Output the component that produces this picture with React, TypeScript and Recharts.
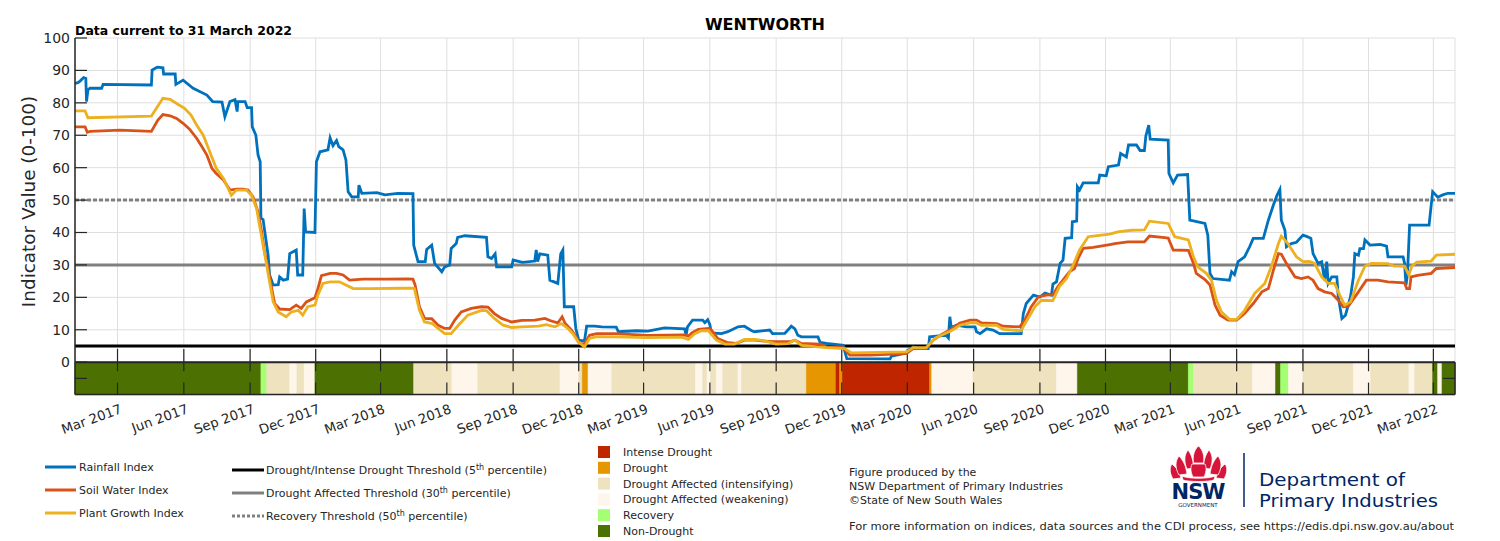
import React from "react";
import {
  CartesianGrid,
  ComposedChart,
  Line,
  ReferenceArea,
  ReferenceLine,
  XAxis,
  YAxis,
} from "recharts";

type Point = [string, number];
type StatusKey = "intense" | "drought" | "intensifying" | "weakening" | "recovery" | "nonDrought";
type Span = [string, string, StatusKey];

const rainfallIndex: Point[] = [
  ["2017-01-01", 86.0], ["2017-01-05", 86.2], ["2017-01-08", 86.7], ["2017-01-13", 87.8],
  ["2017-01-16", 87.5], ["2017-01-17", 80.4], ["2017-01-19", 84.0], ["2017-01-22", 84.5],
  ["2017-02-07", 84.5], ["2017-02-09", 85.7], ["2017-04-17", 85.5], ["2017-04-18", 90.1],
  ["2017-04-25", 91.0], ["2017-05-03", 90.8], ["2017-05-04", 88.9], ["2017-05-20", 88.9],
  ["2017-05-21", 85.7], ["2017-05-31", 87.0], ["2017-06-14", 84.5], ["2017-07-03", 82.4],
  ["2017-07-11", 80.4], ["2017-07-24", 80.2], ["2017-07-28", 75.7], ["2017-08-04", 80.4],
  ["2017-08-11", 81.0], ["2017-08-14", 77.3], ["2017-08-15", 80.4], ["2017-08-25", 80.4],
  ["2017-08-28", 78.5], ["2017-09-03", 78.5], ["2017-09-04", 72.6], ["2017-09-09", 70.0],
  ["2017-09-12", 63.9], ["2017-09-15", 61.8], ["2017-09-16", 44.4], ["2017-09-19", 44.0],
  ["2017-09-26", 33.0], ["2017-09-28", 26.9], ["2017-10-03", 23.8], ["2017-10-10", 23.9],
  ["2017-10-12", 26.3], ["2017-10-17", 25.3], ["2017-10-23", 25.6], ["2017-10-26", 33.5],
  ["2017-11-04", 34.6], ["2017-11-06", 26.9], ["2017-11-13", 26.9], ["2017-11-15", 47.4],
  ["2017-11-17", 40.2], ["2017-11-30", 40.0], ["2017-12-02", 61.8], ["2017-12-07", 64.9],
  ["2017-12-18", 65.5], ["2017-12-21", 69.2], ["2017-12-25", 66.8], ["2017-12-30", 68.4],
  ["2018-01-02", 66.5], ["2018-01-08", 65.5], ["2018-01-12", 62.3], ["2018-01-15", 52.6],
  ["2018-01-20", 51.0], ["2018-01-29", 51.0], ["2018-01-30", 54.6], ["2018-02-03", 52.1],
  ["2018-02-24", 52.3], ["2018-03-07", 51.6], ["2018-03-25", 52.1], ["2018-04-15", 52.0],
  ["2018-04-16", 36.1], ["2018-04-22", 31.0], ["2018-05-02", 31.0], ["2018-05-04", 34.8],
  ["2018-05-11", 36.1], ["2018-05-15", 30.5], ["2018-05-25", 27.9], ["2018-05-29", 29.4],
  ["2018-06-05", 30.0], ["2018-06-07", 35.1], ["2018-06-14", 36.6], ["2018-06-16", 38.5],
  ["2018-06-26", 39.0], ["2018-07-26", 38.5], ["2018-07-28", 32.5], ["2018-08-02", 32.0],
  ["2018-08-07", 33.4], ["2018-08-09", 29.4], ["2018-08-30", 29.4], ["2018-09-01", 31.5],
  ["2018-09-14", 30.8], ["2018-10-01", 31.2], ["2018-10-03", 34.6], ["2018-10-05", 31.0],
  ["2018-10-08", 33.4], ["2018-10-19", 33.0], ["2018-10-22", 25.3], ["2018-11-02", 24.3],
  ["2018-11-06", 33.4], ["2018-11-09", 34.6], ["2018-11-11", 17.1], ["2018-11-24", 17.1],
  ["2018-11-27", 10.4], ["2018-12-01", 6.8], ["2018-12-09", 6.5], ["2018-12-12", 11.1],
  ["2018-12-23", 11.1], ["2019-01-02", 10.9], ["2019-01-22", 10.8], ["2019-01-25", 9.4],
  ["2019-02-19", 9.7], ["2019-03-07", 9.6], ["2019-03-30", 10.6], ["2019-04-27", 10.3],
  ["2019-04-29", 8.3], ["2019-05-01", 10.9], ["2019-05-08", 13.0], ["2019-05-22", 13.0],
  ["2019-05-25", 12.2], ["2019-05-29", 13.1], ["2019-06-01", 11.6], ["2019-06-03", 9.0],
  ["2019-06-17", 8.8], ["2019-06-26", 9.4], ["2019-07-10", 10.9], ["2019-07-19", 11.1],
  ["2019-07-29", 9.7], ["2019-08-02", 9.4], ["2019-08-23", 9.9], ["2019-08-27", 8.8],
  ["2019-09-13", 8.9], ["2019-09-22", 11.1], ["2019-09-27", 10.3], ["2019-10-01", 8.3],
  ["2019-10-06", 7.8], ["2019-10-29", 7.8], ["2019-11-01", 6.1], ["2019-11-10", 5.8],
  ["2019-12-03", 5.2], ["2019-12-08", 1.1], ["2020-02-06", 1.0], ["2020-02-08", 1.9],
  ["2020-02-29", 2.8], ["2020-03-02", 3.7], ["2020-03-09", 4.7], ["2020-03-18", 4.2],
  ["2020-03-30", 4.2], ["2020-04-01", 7.8], ["2020-04-24", 8.3], ["2020-04-27", 7.5],
  ["2020-04-29", 14.0], ["2020-05-01", 10.6], ["2020-05-08", 11.4], ["2020-05-22", 10.9],
  ["2020-06-03", 10.9], ["2020-06-05", 9.4], ["2020-06-10", 8.8], ["2020-06-19", 10.3],
  ["2020-06-28", 9.9], ["2020-07-07", 8.8], ["2020-08-06", 8.8], ["2020-08-09", 15.0],
  ["2020-08-13", 18.1], ["2020-08-23", 20.7], ["2020-09-01", 20.1], ["2020-09-08", 21.3],
  ["2020-09-17", 20.7], ["2020-09-19", 24.1], ["2020-09-24", 24.8], ["2020-09-29", 30.5],
  ["2020-10-03", 31.5], ["2020-10-06", 38.2], ["2020-10-15", 38.4], ["2020-10-16", 43.3],
  ["2020-10-22", 43.5], ["2020-10-23", 54.1], ["2020-10-26", 53.1], ["2020-10-31", 55.3],
  ["2020-11-21", 55.3], ["2020-11-23", 57.7], ["2020-12-02", 57.5], ["2020-12-05", 60.3],
  ["2020-12-19", 60.8], ["2020-12-22", 64.4], ["2020-12-30", 63.3], ["2021-01-02", 67.0],
  ["2021-01-13", 67.0], ["2021-01-18", 65.3], ["2021-01-24", 65.3], ["2021-01-26", 69.8],
  ["2021-01-30", 73.1], ["2021-02-01", 68.8], ["2021-02-26", 68.5], ["2021-02-27", 58.2],
  ["2021-03-05", 55.3], ["2021-03-11", 57.7], ["2021-03-25", 57.9], ["2021-03-28", 43.8],
  ["2021-04-18", 42.8], ["2021-04-22", 39.2], ["2021-04-25", 27.4], ["2021-04-29", 25.8],
  ["2021-05-22", 25.3], ["2021-05-25", 27.9], ["2021-05-29", 27.0], ["2021-06-03", 31.0],
  ["2021-06-12", 32.5], ["2021-06-19", 35.6], ["2021-06-24", 38.2], ["2021-07-08", 38.2],
  ["2021-07-15", 43.8], ["2021-07-22", 48.5], ["2021-07-27", 51.5], ["2021-07-31", 53.3],
  ["2021-08-02", 43.8], ["2021-08-07", 40.7], ["2021-08-09", 35.6], ["2021-08-16", 36.6],
  ["2021-08-23", 37.0], ["2021-09-01", 39.2], ["2021-09-06", 38.8], ["2021-09-12", 38.2],
  ["2021-09-15", 33.5], ["2021-09-22", 30.5], ["2021-09-27", 31.0], ["2021-10-01", 25.3],
  ["2021-10-04", 31.0], ["2021-10-06", 24.3], ["2021-10-11", 26.3], ["2021-10-18", 26.3],
  ["2021-10-20", 20.2], ["2021-10-25", 13.5], ["2021-10-30", 14.5], ["2021-11-06", 20.2],
  ["2021-11-10", 26.3], ["2021-11-12", 33.5], ["2021-11-17", 33.0], ["2021-11-19", 35.0],
  ["2021-11-24", 35.0], ["2021-11-26", 37.7], ["2021-12-01", 36.6], ["2021-12-03", 36.1],
  ["2021-12-17", 36.3], ["2021-12-26", 35.8], ["2021-12-28", 32.5], ["2022-01-18", 32.5],
  ["2022-01-20", 30.5], ["2022-01-22", 23.8], ["2022-01-24", 27.0], ["2022-01-27", 42.3],
  ["2022-02-23", 42.3], ["2022-02-28", 52.6], ["2022-03-07", 50.9], ["2022-03-14", 51.6],
  ["2022-03-21", 52.1], ["2022-03-31", 52.1],
];

const soilWaterIndex: Point[] = [
  ["2017-01-01", 72.6], ["2017-01-15", 72.6], ["2017-01-18", 70.9], ["2017-01-22", 71.2],
  ["2017-03-04", 71.6], ["2017-04-17", 71.2], ["2017-04-26", 74.7], ["2017-05-03", 76.4],
  ["2017-05-13", 76.0], ["2017-05-22", 75.2], ["2017-05-31", 73.7], ["2017-06-09", 71.9],
  ["2017-06-19", 69.0], ["2017-06-26", 66.5], ["2017-07-03", 63.9], ["2017-07-10", 59.8],
  ["2017-07-16", 58.2], ["2017-07-26", 56.2], ["2017-08-04", 53.1], ["2017-08-13", 53.4],
  ["2017-08-22", 53.4], ["2017-08-29", 53.1], ["2017-09-05", 51.0], ["2017-09-12", 46.4],
  ["2017-09-17", 40.2], ["2017-09-21", 34.0], ["2017-09-26", 28.9], ["2017-10-01", 22.7],
  ["2017-10-05", 18.1], ["2017-10-12", 16.4], ["2017-10-26", 16.2], ["2017-11-04", 17.6],
  ["2017-11-11", 16.6], ["2017-11-18", 18.6], ["2017-11-30", 19.9], ["2017-12-04", 22.6],
  ["2017-12-09", 26.7], ["2017-12-21", 27.4], ["2017-12-30", 27.4], ["2018-01-08", 26.9],
  ["2018-01-17", 25.3], ["2018-02-05", 25.6], ["2018-03-09", 25.6], ["2018-04-06", 25.7],
  ["2018-04-15", 25.6], ["2018-04-18", 23.8], ["2018-04-24", 17.1], ["2018-05-01", 13.5],
  ["2018-05-11", 13.4], ["2018-05-20", 11.4], ["2018-05-29", 10.4], ["2018-06-05", 10.4],
  ["2018-06-12", 13.0], ["2018-06-21", 15.5], ["2018-07-05", 16.6], ["2018-07-19", 17.1],
  ["2018-07-28", 17.0], ["2018-08-06", 15.0], ["2018-08-16", 13.5], ["2018-08-30", 12.4],
  ["2018-09-13", 12.9], ["2018-10-01", 13.0], ["2018-10-15", 13.5], ["2018-10-24", 12.7],
  ["2018-11-02", 12.1], ["2018-11-08", 14.0], ["2018-11-12", 12.0], ["2018-11-21", 9.9],
  ["2018-11-26", 8.3], ["2018-12-02", 5.8], ["2018-12-09", 5.6], ["2018-12-16", 8.3],
  ["2018-12-26", 8.8], ["2019-01-20", 8.8], ["2019-03-07", 8.3], ["2019-04-27", 8.4],
  ["2019-05-02", 8.0], ["2019-05-07", 9.0], ["2019-05-16", 10.1], ["2019-05-30", 10.4],
  ["2019-06-03", 10.0], ["2019-06-12", 7.3], ["2019-06-26", 6.0], ["2019-07-08", 5.8],
  ["2019-07-19", 6.8], ["2019-08-02", 6.8], ["2019-08-16", 6.5], ["2019-08-28", 6.3],
  ["2019-09-20", 6.3], ["2019-09-27", 6.8], ["2019-10-06", 5.8], ["2019-11-01", 5.6],
  ["2019-11-10", 4.7], ["2019-12-03", 4.5], ["2019-12-12", 2.2], ["2020-01-09", 2.2],
  ["2020-02-10", 2.5], ["2020-02-29", 2.7], ["2020-03-09", 4.2], ["2020-03-27", 4.2],
  ["2020-04-06", 6.8], ["2020-04-17", 8.5], ["2020-04-29", 9.9], ["2020-05-13", 12.1],
  ["2020-05-27", 13.0], ["2020-06-05", 13.0], ["2020-06-12", 12.1], ["2020-07-03", 11.9],
  ["2020-07-12", 11.1], ["2020-08-04", 10.9], ["2020-08-11", 13.0], ["2020-08-20", 17.1],
  ["2020-08-30", 20.2], ["2020-09-10", 20.7], ["2020-09-19", 20.8], ["2020-09-26", 23.3],
  ["2020-10-03", 25.3], ["2020-10-12", 27.9], ["2020-10-19", 28.9], ["2020-10-24", 32.0],
  ["2020-10-31", 35.1], ["2020-11-14", 35.4], ["2020-12-07", 36.3], ["2020-12-14", 36.6],
  ["2021-01-01", 37.1], ["2021-01-24", 37.1], ["2021-01-31", 38.9], ["2021-02-21", 38.4],
  ["2021-02-26", 38.3], ["2021-03-05", 34.6], ["2021-03-26", 34.5], ["2021-04-02", 30.5],
  ["2021-04-06", 27.4], ["2021-04-18", 25.5], ["2021-04-25", 23.8], ["2021-05-02", 17.6],
  ["2021-05-09", 14.5], ["2021-05-20", 13.0], ["2021-06-01", 13.0], ["2021-06-12", 15.0],
  ["2021-06-24", 18.1], ["2021-07-06", 21.7], ["2021-07-15", 22.7], ["2021-07-22", 28.4],
  ["2021-07-29", 33.5], ["2021-08-02", 33.3], ["2021-08-09", 30.5], ["2021-08-21", 26.3],
  ["2021-08-30", 25.8], ["2021-09-08", 26.3], ["2021-09-15", 25.3], ["2021-09-22", 22.7],
  ["2021-10-01", 21.7], ["2021-10-11", 21.2], ["2021-10-20", 19.1], ["2021-10-27", 17.1],
  ["2021-11-03", 17.3], ["2021-11-17", 21.7], ["2021-11-28", 25.3], ["2021-12-14", 25.3],
  ["2021-12-28", 24.8], ["2022-01-20", 24.5], ["2022-01-23", 22.7], ["2022-01-27", 22.7],
  ["2022-01-29", 26.3], ["2022-02-07", 26.8], ["2022-02-26", 27.4], ["2022-03-05", 28.9],
  ["2022-03-31", 29.2],
];

const plantGrowthIndex: Point[] = [
  ["2017-01-01", 77.5], ["2017-01-15", 77.5], ["2017-01-19", 75.4], ["2017-04-17", 75.9],
  ["2017-04-24", 78.3], ["2017-05-03", 81.4], ["2017-05-13", 81.1], ["2017-05-22", 79.8],
  ["2017-06-02", 78.3], ["2017-06-11", 76.2], ["2017-06-19", 73.1], ["2017-06-28", 70.0],
  ["2017-07-07", 64.9], ["2017-07-16", 59.8], ["2017-07-26", 56.7], ["2017-08-06", 51.5],
  ["2017-08-13", 53.1], ["2017-08-27", 53.1], ["2017-09-03", 51.5], ["2017-09-10", 47.4],
  ["2017-09-14", 42.3], ["2017-09-19", 36.1], ["2017-09-24", 29.9], ["2017-09-28", 24.8],
  ["2017-10-03", 18.6], ["2017-10-10", 15.5], ["2017-10-21", 14.0], ["2017-10-28", 15.5],
  ["2017-11-07", 16.0], ["2017-11-13", 14.5], ["2017-11-20", 17.1], ["2017-11-30", 17.6],
  ["2017-12-04", 20.7], ["2017-12-11", 24.3], ["2017-12-21", 24.8], ["2018-01-03", 24.8],
  ["2018-01-12", 23.8], ["2018-01-22", 22.7], ["2018-02-14", 22.7], ["2018-04-01", 22.8],
  ["2018-04-15", 22.8], ["2018-04-17", 22.7], ["2018-04-24", 16.0], ["2018-05-01", 12.4],
  ["2018-05-11", 12.0], ["2018-05-20", 10.4], ["2018-05-29", 8.8], ["2018-06-07", 8.8],
  ["2018-06-17", 11.4], ["2018-06-30", 14.5], ["2018-07-19", 16.0], ["2018-07-26", 15.9],
  ["2018-08-06", 13.5], ["2018-08-18", 11.4], ["2018-08-30", 10.7], ["2018-09-13", 10.9],
  ["2018-10-06", 11.1], ["2018-10-17", 11.6], ["2018-10-29", 10.9], ["2018-11-07", 11.9],
  ["2018-11-16", 10.4], ["2018-11-23", 8.8], ["2018-11-30", 6.3], ["2018-12-09", 4.7],
  ["2018-12-16", 7.3], ["2018-12-26", 7.9], ["2019-01-20", 7.8], ["2019-03-07", 7.6],
  ["2019-04-23", 7.7], ["2019-05-02", 7.0], ["2019-05-11", 8.8], ["2019-05-20", 9.7],
  ["2019-05-30", 9.7], ["2019-06-10", 6.8], ["2019-06-22", 5.6], ["2019-07-05", 5.6],
  ["2019-07-19", 7.0], ["2019-08-02", 7.0], ["2019-08-16", 6.6], ["2019-09-01", 5.6],
  ["2019-09-17", 5.7], ["2019-09-27", 6.8], ["2019-10-06", 5.2], ["2019-11-10", 4.5],
  ["2019-12-05", 4.2], ["2019-12-14", 2.9], ["2020-02-10", 3.1], ["2020-02-29", 3.2],
  ["2020-03-09", 4.5], ["2020-03-27", 4.5], ["2020-04-08", 7.3], ["2020-04-17", 8.3],
  ["2020-05-01", 9.7], ["2020-05-13", 11.4], ["2020-05-27", 12.1], ["2020-06-05", 12.1],
  ["2020-06-12", 11.4], ["2020-07-03", 11.4], ["2020-07-12", 10.1], ["2020-08-06", 9.7],
  ["2020-08-10", 11.4], ["2020-08-25", 17.1], ["2020-09-03", 19.1], ["2020-09-19", 19.0],
  ["2020-09-28", 23.3], ["2020-10-08", 25.8], ["2020-10-17", 29.9], ["2020-10-26", 34.6],
  ["2020-11-07", 38.7], ["2020-11-14", 38.9], ["2020-12-07", 39.5], ["2020-12-18", 40.2],
  ["2021-01-06", 40.7], ["2021-01-24", 40.8], ["2021-01-31", 43.5], ["2021-02-26", 42.8],
  ["2021-03-07", 38.7], ["2021-03-26", 37.7], ["2021-04-02", 32.5], ["2021-04-08", 29.4],
  ["2021-04-20", 27.4], ["2021-04-27", 25.3], ["2021-05-04", 19.1], ["2021-05-11", 15.5],
  ["2021-05-22", 13.2], ["2021-06-01", 13.2], ["2021-06-12", 16.0], ["2021-06-26", 21.2],
  ["2021-07-10", 24.3], ["2021-07-19", 29.4], ["2021-07-29", 36.6], ["2021-08-02", 38.9],
  ["2021-08-11", 36.6], ["2021-08-23", 32.5], ["2021-09-01", 31.0], ["2021-09-10", 31.1],
  ["2021-09-17", 30.5], ["2021-09-27", 26.3], ["2021-10-06", 24.3], ["2021-10-15", 24.3],
  ["2021-10-22", 20.7], ["2021-10-29", 17.6], ["2021-11-06", 18.6], ["2021-11-17", 25.3],
  ["2021-11-26", 29.6], ["2021-12-05", 30.5], ["2021-12-28", 30.4], ["2022-01-06", 29.6],
  ["2022-01-20", 29.6], ["2022-01-26", 26.9], ["2022-01-30", 29.6], ["2022-02-06", 30.9],
  ["2022-02-26", 31.2], ["2022-03-05", 33.0], ["2022-03-31", 33.3],
];

// CDI drought category by period
const droughtStatus: Span[] = [
  ["2017-01-01", "2017-09-16", "nonDrought"],
  ["2017-09-16", "2017-09-24", "recovery"],
  ["2017-09-24", "2017-10-26", "intensifying"],
  ["2017-10-26", "2017-11-05", "weakening"],
  ["2017-11-05", "2017-11-15", "intensifying"],
  ["2017-11-15", "2017-11-30", "weakening"],
  ["2017-11-30", "2018-04-16", "nonDrought"],
  ["2018-04-16", "2018-06-08", "intensifying"],
  ["2018-06-08", "2018-07-14", "weakening"],
  ["2018-07-14", "2018-11-05", "intensifying"],
  ["2018-11-05", "2018-12-01", "weakening"],
  ["2018-12-01", "2018-12-06", "intensifying"],
  ["2018-12-06", "2018-12-14", "drought"],
  ["2018-12-14", "2019-01-16", "weakening"],
  ["2019-01-16", "2019-05-12", "intensifying"],
  ["2019-05-12", "2019-05-22", "weakening"],
  ["2019-05-22", "2019-05-28", "intensifying"],
  ["2019-05-28", "2019-06-02", "weakening"],
  ["2019-06-02", "2019-06-10", "intensifying"],
  ["2019-06-10", "2019-06-19", "weakening"],
  ["2019-06-19", "2019-07-10", "intensifying"],
  ["2019-07-10", "2019-07-15", "weakening"],
  ["2019-07-15", "2019-10-13", "intensifying"],
  ["2019-10-13", "2019-11-23", "drought"],
  ["2019-11-23", "2019-11-28", "intense"],
  ["2019-11-28", "2019-12-02", "drought"],
  ["2019-12-02", "2020-04-01", "intense"],
  ["2020-04-01", "2020-04-04", "drought"],
  ["2020-04-04", "2020-05-31", "weakening"],
  ["2020-05-31", "2020-09-24", "intensifying"],
  ["2020-09-24", "2020-10-23", "weakening"],
  ["2020-10-23", "2021-03-26", "nonDrought"],
  ["2021-03-26", "2021-04-02", "recovery"],
  ["2021-04-02", "2021-06-23", "intensifying"],
  ["2021-06-23", "2021-07-25", "weakening"],
  ["2021-07-25", "2021-08-01", "nonDrought"],
  ["2021-08-01", "2021-08-12", "recovery"],
  ["2021-08-12", "2021-09-01", "weakening"],
  ["2021-09-01", "2021-11-10", "intensifying"],
  ["2021-11-10", "2021-12-04", "weakening"],
  ["2021-12-04", "2022-01-26", "intensifying"],
  ["2022-01-26", "2022-02-03", "weakening"],
  ["2022-02-03", "2022-02-28", "intensifying"],
  ["2022-02-28", "2022-03-07", "nonDrought"],
  ["2022-03-07", "2022-03-13", "weakening"],
  ["2022-03-13", "2022-03-31", "nonDrought"],
];

const dateTicks = [
  "2017-03-01", "2017-06-01", "2017-09-01", "2017-12-01",
  "2018-03-01", "2018-06-01", "2018-09-01", "2018-12-01",
  "2019-03-01", "2019-06-01", "2019-09-01", "2019-12-01",
  "2020-03-01", "2020-06-01", "2020-09-01", "2020-12-01",
  "2021-03-01", "2021-06-01", "2021-09-01", "2021-12-01",
  "2022-03-01",
];
const valueTicks = [0, 10, 20, 30, 40, 50, 60, 70, 80, 90, 100];
const MONTHS = ["Jan", "Feb", "Mar", "Apr", "May", "Jun", "Jul", "Aug", "Sep", "Oct", "Nov", "Dec"];

const thresholds = { drought: 5, affected: 30, recovery: 50 };

const STATUS_COLOURS: Record<StatusKey, string> = {
  intense: "#BF2600",
  drought: "#E59600",
  intensifying: "#EEE2BF",
  weakening: "#FEF6EB",
  recovery: "#A4FF73",
  nonDrought: "#4C7002",
};
const STATUS_LABELS: [StatusKey, string][] = [
  ["intense", "Intense Drought"],
  ["drought", "Drought"],
  ["intensifying", "Drought Affected (intensifying)"],
  ["weakening", "Drought Affected (weakening)"],
  ["recovery", "Recovery"],
  ["nonDrought", "Non-Drought"],
];

const BLUE = "#0072BD";
const ORANGE = "#D95319";
const YELLOW = "#EDB120";
const AXIS = "#262626";
const NAVY = "#002664";
const FONT = "DejaVu Sans";

const DAY = 86400000;
const T0 = Date.parse("2017-01-01");
const T1 = Date.parse("2022-03-31");
const tickTimes = dateTicks.map((d) => Date.parse(d));

const toRows = (pts: Point[]) => pts.map(([d, v]) => ({ t: Date.parse(d), v }));

const fmtMonth = (t: number) => {
  const d = new Date(t);
  return `${MONTHS[d.getUTCMonth()]} ${d.getUTCFullYear()}`;
};

function DateTick(props: any) {
  const { x, y, payload } = props;
  const ax = x + 2;
  return (
    <text
      x={ax}
      y={y}
      dy="0.72em"
      textAnchor="end"
      transform={`rotate(-20 ${ax} ${y})`}
      fontSize={13.3}
      fontFamily={FONT}
      fill={AXIS}
    >
      {fmtMonth(payload.value)}
    </text>
  );
}

function Waratah() {
  // stylised waratah flower head
  return (
    <g transform="translate(1170 446)" fill="#D7153A" stroke="#fff" strokeWidth={0.8}>
      <path d="M2 18 C-1 22 0 28 3 33 L11 32 C10 27 7 22 2 18 Z" />
      <path d="M55 18 C58 22 57 28 54 33 L46 32 C47 27 50 22 55 18 Z" />
      <path d="M9 10 C5 15 5 22 9 29 L17 28 C16 21 14 15 9 10 Z" />
      <path d="M48 10 C52 15 52 22 48 29 L40 28 C41 21 43 15 48 10 Z" />
      <path d="M18 4 C14 9 14 16 17 23 L24 22 C23 15 22 9 18 4 Z" />
      <path d="M39 4 C43 9 43 16 40 23 L33 22 C34 15 35 9 39 4 Z" />
      <path d="M28.5 0 C24 4 22.5 10 23.5 17 L33.5 17 C34.5 10 33 4 28.5 0 Z" />
      <path d="M22 18 C20 22 21 27 23 31 L34 31 C36 27 37 22 35 18 Z" />
      <path d="M12 30 C18 33 39 33 45 30 L44 34 C38 36 19 36 13 34 Z" />
    </g>
  );
}

function Overlay() {
  const rows1: [string, string][] = [
    [BLUE, "Rainfall Index"],
    [ORANGE, "Soil Water Index"],
    [YELLOW, "Plant Growth Index"],
  ];
  const sup = (pre: string, post: string) => (
    <>
      {pre}
      <tspan dy={-4} fontSize={8}>th</tspan>
      <tspan dy={4}>{post}</tspan>
    </>
  );
  return (
    <svg
      width={1500}
      height={541}
      style={{ position: "absolute", left: 0, top: 0, pointerEvents: "none" }}
      fontFamily={FONT}
    >
      <text x={765} y={30} textAnchor="middle" fontSize={16} fontWeight="bold" fill="#000">
        WENTWORTH
      </text>
      <text x={75} y={35} fontSize={12.5} fontWeight="bold" fill="#000">
        Data current to 31 March 2022
      </text>
      <text
        transform="rotate(-90)"
        x={-201.5}
        y={35}
        textAnchor="middle"
        fontSize={18.4}
        fill={AXIS}
      >
        Indicator Value (0-100)
      </text>

      {/* index legend */}
      {rows1.map(([c, label], i) => (
        <g key={label}>
          <line x1={45} x2={76} y1={467 + i * 23} y2={467 + i * 23} stroke={c} strokeWidth={3} />
          <text x={79} y={471 + i * 23} fontSize={11} fill={AXIS}>
            {label}
          </text>
        </g>
      ))}

      {/* threshold legend */}
      <line x1={232} x2={264} y1={470} y2={470} stroke="#000" strokeWidth={3} />
      <text x={266} y={474} fontSize={11} fill={AXIS}>
        {sup("Drought/Intense Drought Threshold (5", " percentile)")}
      </text>
      <line x1={232} x2={264} y1={493} y2={493} stroke="#808080" strokeWidth={3} />
      <text x={266} y={497} fontSize={11} fill={AXIS}>
        {sup("Drought Affected Threshold (30", " percentile)")}
      </text>
      <line x1={232} x2={264} y1={516} y2={516} stroke="#808080" strokeWidth={3} strokeDasharray="3 2" />
      <text x={266} y={520} fontSize={11} fill={AXIS}>
        {sup("Recovery Threshold (50", " percentile)")}
      </text>

      {/* drought category legend */}
      {STATUS_LABELS.map(([k, label], i) => {
        const cy = 452 + i * 15.8;
        return (
          <g key={k}>
            <rect x={598} y={cy - 6} width={12} height={12} fill={STATUS_COLOURS[k]} />
            <text x={623} y={cy + 4} fontSize={11} fill={AXIS}>
              {label}
            </text>
          </g>
        );
      })}

      <text fontSize={11} fill={AXIS}>
        <tspan x={849} y={476}>Figure produced by the</tspan>
        <tspan x={849} y={490}>NSW Department of Primary Industries</tspan>
        <tspan x={849} y={504}>©State of New South Wales</tspan>
      </text>
      <text x={849} y={530} fontSize={11} fill={AXIS} textLength={605} lengthAdjust="spacingAndGlyphs">
        For more information on indices, data sources and the CDI process, see https://edis.dpi.nsw.gov.au/about
      </text>

      {/* NSW DPI logo */}
      <Waratah />
      <text x={1198} y={499} textAnchor="middle" fontSize={21} fontWeight="bold" fill={NAVY} letterSpacing={-1}>
        NSW
      </text>
      <text x={1198} y={507} textAnchor="middle" fontSize={5.5} fill={NAVY}>
        GOVERNMENT
      </text>
      <line x1={1244} x2={1244} y1={453} y2={507} stroke={NAVY} strokeWidth={1.5} />
      <text x={1259} y={486} fontSize={18.5} fill={NAVY} textLength={146} lengthAdjust="spacingAndGlyphs">
        Department of
      </text>
      <text x={1259} y={507} fontSize={18.5} fill={NAVY} textLength={179} lengthAdjust="spacingAndGlyphs">
        Primary Industries
      </text>
    </svg>
  );
}

export default function App() {
  const rain = toRows(rainfallIndex);
  const soil = toRows(soilWaterIndex);
  const plant = toRows(plantGrowthIndex);
  const tickLen = 16.65 * DAY;

  return (
    <div
      style={{
        position: "absolute",
        left: 0,
        top: 0,
        width: 1500,
        height: 541,
        background: "#fff",
        overflow: "hidden",
        fontFamily: FONT,
      }}
    >
      <ComposedChart width={1500} height={541} margin={{ top: 38, right: 45, bottom: 106.4, left: 15 }}>
        <CartesianGrid stroke="#dfdfdf" strokeWidth={1} />
        <XAxis
          dataKey="t"
          type="number"
          domain={[T0, T1]}
          ticks={tickTimes}
          interval={0}
          allowDataOverflow
          height={40}
          tickSize={-12}
          tickMargin={21}
          tick={<DateTick />}
          axisLine={{ stroke: AXIS, strokeWidth: 1.5 }}
          tickLine={{ stroke: AXIS, strokeWidth: 1.2 }}
        />
        <YAxis
          type="number"
          domain={[-10, 100]}
          ticks={valueTicks}
          interval={0}
          allowDataOverflow
          width={60}
          tickSize={-12}
          tickMargin={17}
          tick={{ fontSize: 14, fill: AXIS, fontFamily: FONT }}
          axisLine={{ stroke: AXIS, strokeWidth: 1.5 }}
          tickLine={{ stroke: AXIS, strokeWidth: 1.2 }}
        />

        {droughtStatus.map(([from, to, k]) => (
          <ReferenceArea
            key={from}
            x1={Date.parse(from)}
            x2={Date.parse(to)}
            y1={-10}
            y2={0}
            fill={STATUS_COLOURS[k]}
            fillOpacity={1}
            stroke={STATUS_COLOURS[k]}
            strokeWidth={0.6}
          />
        ))}

        {tickTimes.map((t) => (
          <ReferenceLine
            key={`up-${t}`}
            segment={[{ x: t, y: 0 }, { x: t, y: 4.1 }]}
            stroke={AXIS}
            strokeWidth={1.2}
          />
        ))}
        {tickTimes.map((t) => (
          <ReferenceLine
            key={`dn-${t}`}
            segment={[{ x: t, y: 0 }, { x: t, y: -2.8 }]}
            stroke={AXIS}
            strokeWidth={1.2}
          />
        ))}
        <ReferenceLine segment={[{ x: T0, y: -5 }, { x: T0 + tickLen, y: -5 }]} stroke={AXIS} strokeWidth={1.2} />
        <ReferenceLine segment={[{ x: T1 - tickLen, y: -5 }, { x: T1, y: -5 }]} stroke={AXIS} strokeWidth={1.2} />
        <ReferenceLine segment={[{ x: T1, y: -10 }, { x: T1, y: 0 }]} stroke={AXIS} strokeWidth={1.5} />
        <ReferenceLine y={0} stroke={AXIS} strokeWidth={2} />

        <ReferenceLine y={thresholds.recovery} stroke="#808080" strokeWidth={3} strokeDasharray="4 2" />
        <ReferenceLine y={thresholds.affected} stroke="#808080" strokeWidth={3} />
        <ReferenceLine y={thresholds.drought} stroke="#000" strokeWidth={3} />

        <Line data={rain} dataKey="v" type="linear" stroke={BLUE} strokeWidth={2.8} dot={false} isAnimationActive={false} />
        <Line data={soil} dataKey="v" type="linear" stroke={ORANGE} strokeWidth={2.8} dot={false} isAnimationActive={false} />
        <Line data={plant} dataKey="v" type="linear" stroke={YELLOW} strokeWidth={2.8} dot={false} isAnimationActive={false} />
      </ComposedChart>
      <Overlay />
    </div>
  );
}
